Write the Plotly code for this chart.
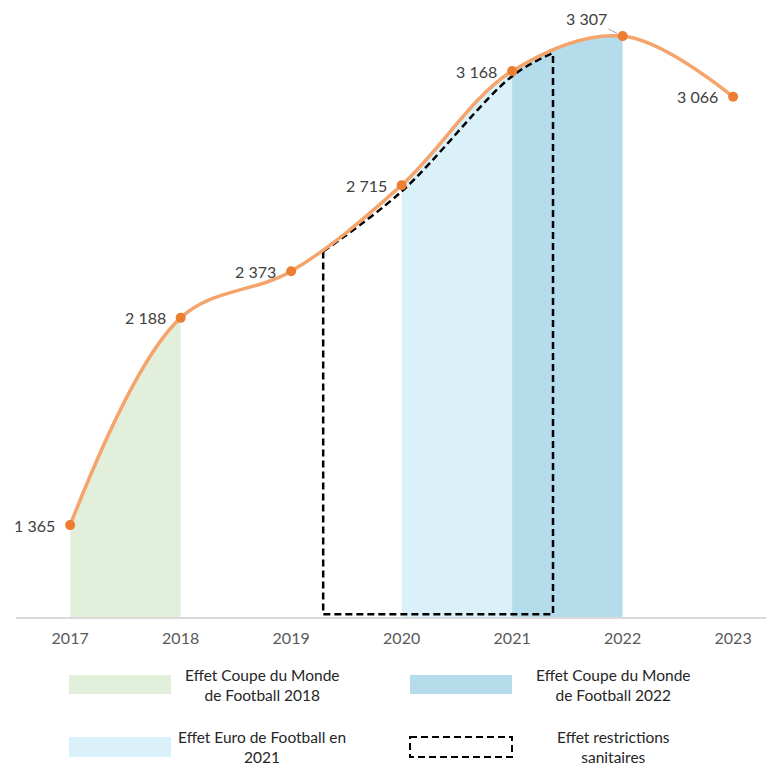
import plotly.graph_objects as go

# data
years = [2017, 2018, 2019, 2020, 2021, 2022, 2023]
values = [1365, 2188, 2373, 2715, 3168, 3307, 3066]

# shaded effects under the curve (start year, end year, colour)
effect_spans = [
    (2017, 2018, "#E2EFDA"),
    (2020, 2021, "#DAF1FA"),
    (2021, 2022, "#B4DCEB"),
]

# dashed "restrictions sanitaires" outline
dash_x = [2019.29, 2020, 2021, 2021.37]
dash_top = [2452, 2690, 3148, 3240]
dash_base = 1011

legend_items = [
    ("Effet Coupe du Monde<br>de Football 2018", "#E2EFDA", False),
    ("Effet Coupe du Monde<br>de Football 2022", "#B4DCEB", False),
    ("Effet Euro de Football en<br>2021", "#DAF1FA", False),
    ("Effet restrictions<br>sanitaires", None, True),
]

X_RANGE = [2016.51, 2023.37]
Y_RANGE = [1000, 3418.6]
FONT = "Lato, 'Open Sans', sans-serif"
LINE_COL = "#F4A46C"
MARK_COL = "#ED7D31"
DASH = "7px,4px"

# page is drawn with an 8px body margin, so the figure is 8px smaller
OFF = 8
PLOT_L, PLOT_W, PLOT_H = 16 - OFF, 758, 617 - OFF


def fmt(v):
    return f"{v:,}".replace(",", " ")


def frac(x):
    return (x - X_RANGE[0]) / (X_RANGE[1] - X_RANGE[0])


fig = go.Figure()
layout_axes = {}

# each shaded span gets its own hidden x axis so the spline fill is clipped to it
for i, (x0, x1, col) in enumerate(effect_spans):
    ax_id = i + 2
    layout_axes[f"xaxis{ax_id}"] = dict(
        domain=[frac(x0), frac(x1)], range=[x0, x1], anchor="y",
        visible=False, fixedrange=True,
    )
    fig.add_trace(go.Scatter(
        x=years, y=values, xaxis=f"x{ax_id}", yaxis="y",
        mode="lines", line=dict(shape="spline", width=0, color=col, simplify=False),
        fill="tozeroy", fillcolor=col, hoverinfo="skip", showlegend=False,
    ))

top_id = len(effect_spans) + 2
layout_axes[f"xaxis{top_id}"] = dict(domain=[0, 1], range=X_RANGE, anchor="y", visible=False)
top_x = f"x{top_id}"

# dashed outline
fig.add_trace(go.Scatter(
    x=dash_x, y=dash_top, xaxis=top_x, yaxis="y", mode="lines",
    line=dict(shape="spline", color="black", width=2.5, dash=DASH),
    hoverinfo="skip", showlegend=False,
))
fig.add_trace(go.Scatter(
    x=[dash_x[0], dash_x[0], dash_x[-1], dash_x[-1]],
    y=[dash_top[0], dash_base, dash_base, dash_top[-1]],
    xaxis=top_x, yaxis="y", mode="lines",
    line=dict(color="black", width=2.5, dash=DASH),
    hoverinfo="skip", showlegend=False,
))

# main curve
fig.add_trace(go.Scatter(
    x=years, y=values, xaxis=top_x, yaxis="y", mode="lines+markers",
    line=dict(shape="spline", color=LINE_COL, width=3.5),
    marker=dict(size=10, color=MARK_COL),
    showlegend=False,
))

annotations = []
for yr, v in zip(years, values):
    if v == max(values):
        annotations.append(dict(
            x=yr, y=v, xref="x", yref="y", text=fmt(v), showarrow=True,
            ax=-36, ay=-18, arrowhead=0, arrowwidth=1, arrowcolor="#A6A6A6", standoff=6,
            font=dict(size=16, color="#404040", family=FONT),
        ))
    else:
        annotations.append(dict(
            x=yr, y=v, xref="x", yref="y", text=fmt(v), showarrow=False,
            xanchor="right", yanchor="middle", xshift=-13,
            font=dict(size=16, color="#404040", family=FONT),
        ))


def px(xp):
    return (xp - OFF - PLOT_L) / PLOT_W


def py(yp):
    return (PLOT_H - (yp - OFF)) / PLOT_H


# custom legend below the axis (page pixel positions converted to paper)
shapes = []
box_cols = [69, 410]
box_rows = [(675, 694), (737, 757)]
text_cols = [262, 613]
for k, (label, col, dashed) in enumerate(legend_items):
    c, r = k % 2, k // 2
    y0, y1 = box_rows[r]
    if dashed:
        shapes.append(dict(type="rect", xref="paper", yref="paper",
                           x0=px(box_cols[c]), x1=px(box_cols[c] + 102), y0=py(y0), y1=py(y1),
                           line=dict(color="black", width=2, dash=DASH), fillcolor="rgba(0,0,0,0)"))
    else:
        shapes.append(dict(type="rect", xref="paper", yref="paper",
                           x0=px(box_cols[c]), x1=px(box_cols[c] + 102), y0=py(y0), y1=py(y1),
                           line=dict(width=0), fillcolor=col))
    annotations.append(dict(
        x=px(text_cols[c]), y=py((y0 + y1) / 2 + 0.5), xref="paper", yref="paper",
        text=label, showarrow=False, xanchor="center", yanchor="middle", align="center",
        font=dict(size=15.5, color="#262626", family=FONT),
    ))

fig.update_layout(
    width=774 - OFF, height=765 - OFF,
    margin=dict(l=PLOT_L, r=0, t=0, b=148),
    paper_bgcolor="white", plot_bgcolor="rgba(0,0,0,0)",
    font=dict(family=FONT, color="#595959"),
    xaxis=dict(range=X_RANGE, tickvals=years, ticktext=[str(y) for y in years],
               showgrid=False, zeroline=False, showline=True, linecolor="#D9D9D9", linewidth=1.5,
               ticks="", ticklabelstandoff=6, tickfont=dict(size=16, color="#595959")),
    yaxis=dict(range=Y_RANGE, visible=False, showgrid=False, zeroline=False),
    shapes=shapes,
    annotations=annotations,
    showlegend=False,
    **layout_axes,
)

fig.write_html("out.html")
